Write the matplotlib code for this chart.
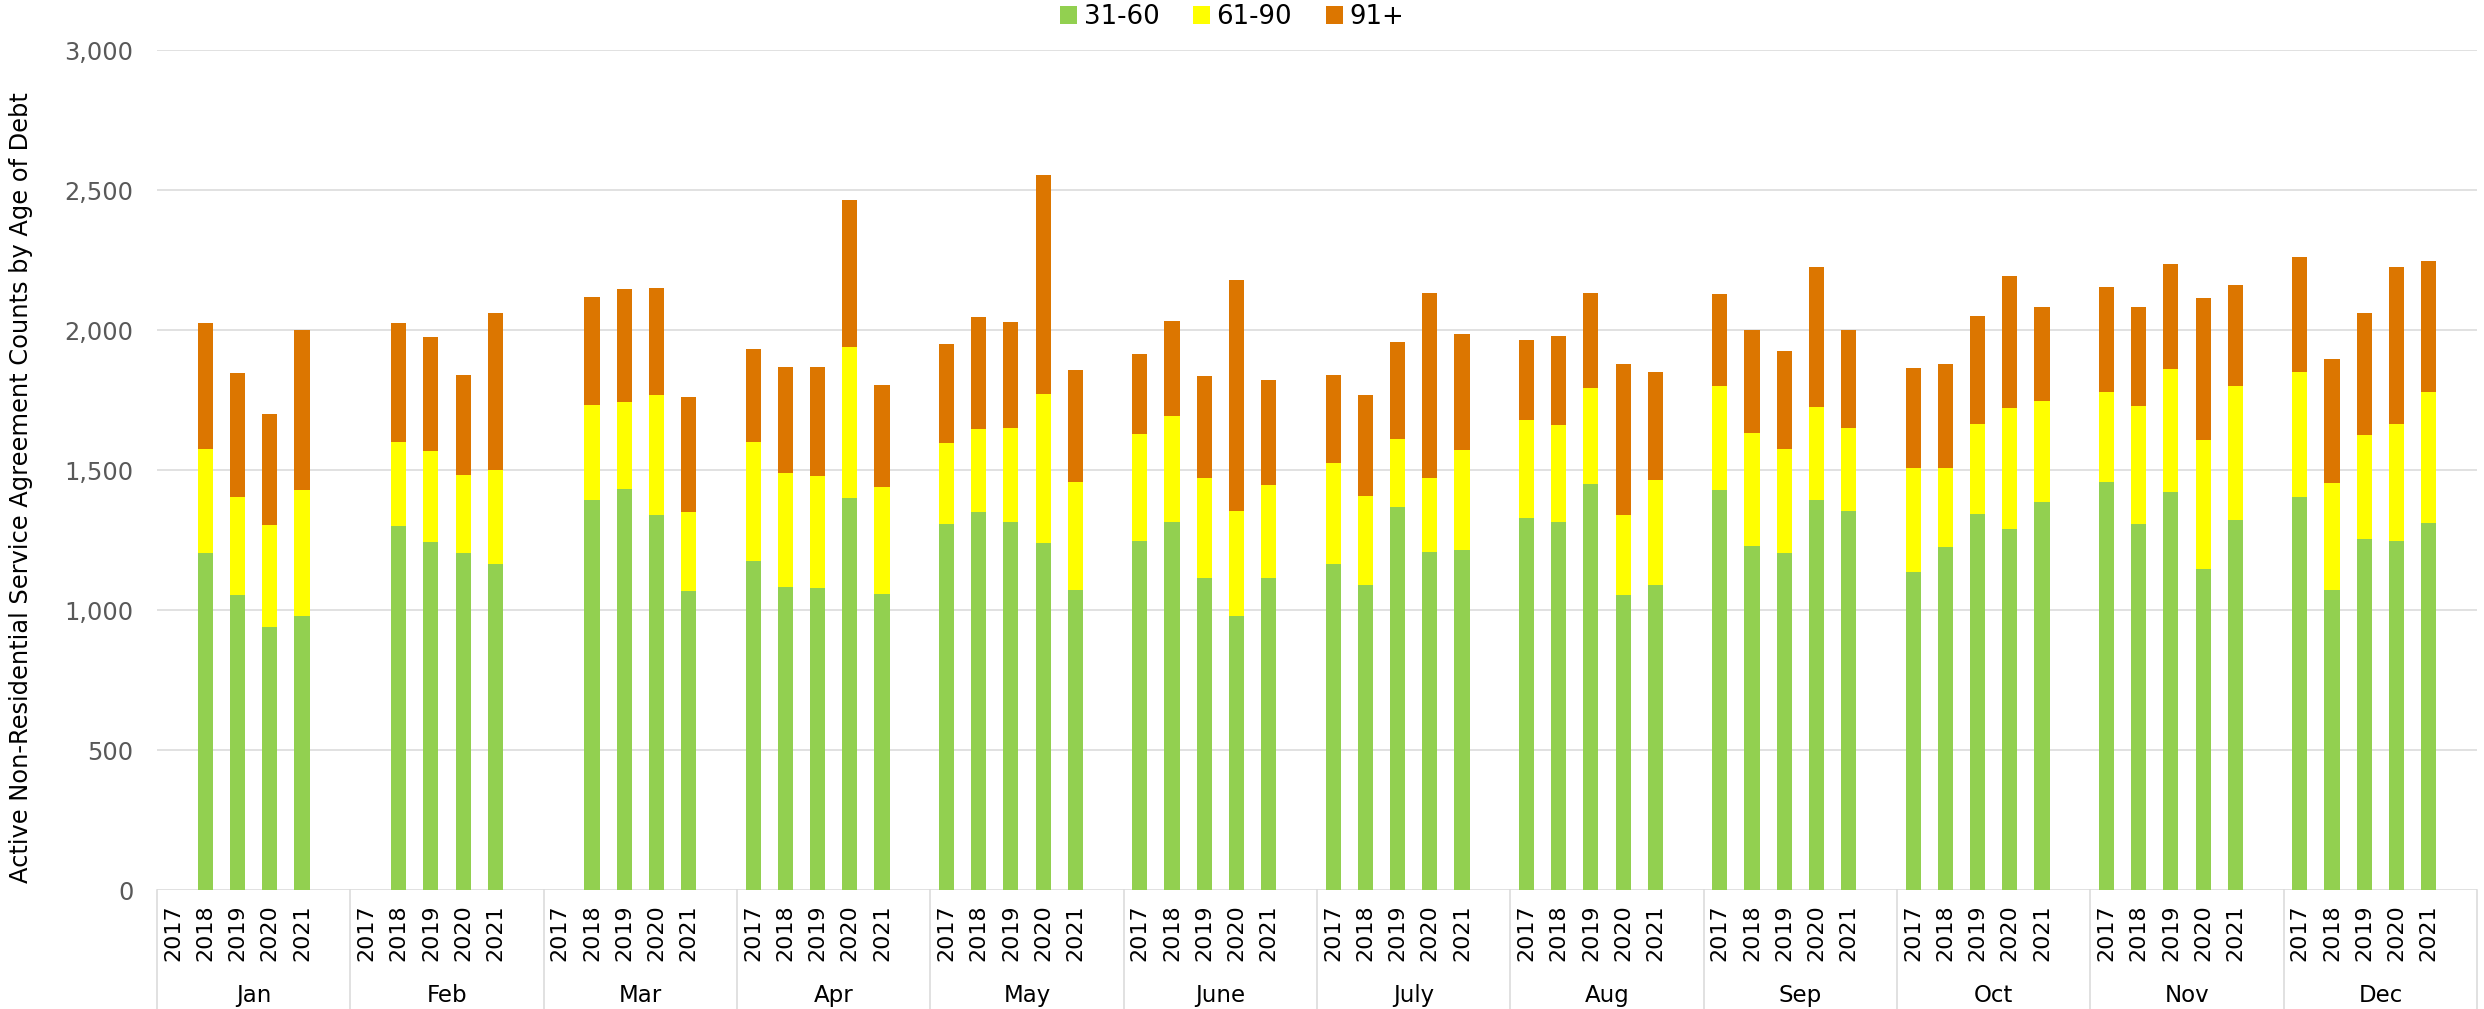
import matplotlib
matplotlib.use('Agg')
import matplotlib.pyplot as plt
import matplotlib.transforms as mtransforms
from matplotlib.patches import Patch
from matplotlib.ticker import StrMethodFormatter

months = ['Jan', 'Feb', 'Mar', 'Apr', 'May', 'June', 'July', 'Aug', 'Sep', 'Oct', 'Nov', 'Dec']
years = ['2017', '2018', '2019', '2020', '2021']
series = ['31-60', '61-90', '91+']
colors = ['#92D050', '#FFFF00', '#DC7600']

# values per month, years 2017..2021 (None = no data)
age_31_60 = [None, 1204, 1053, 940, 979,
             None, 1301, 1242, 1203, 1164,
             None, 1392, 1433, 1340, 1068,
             1176, 1084, 1080, 1401, 1059,
             1307, 1349, 1314, 1238, 1071,
             1245, 1316, 1114, 978, 1114,
             1165, 1091, 1369, 1206, 1213,
             1328, 1316, 1450, 1054, 1091,
             1427, 1227, 1204, 1392, 1355,
             1135, 1224, 1344, 1291, 1385,
             1456, 1309, 1420, 1146, 1323,
             1404, 1071, 1252, 1245, 1312]
age_61_90 = [None, 370, 350, 363, 450,
             None, 298, 325, 280, 336,
             None, 341, 310, 428, 281,
             425, 405, 397, 540, 379,
             290, 296, 335, 535, 388,
             384, 377, 359, 377, 331,
             360, 315, 241, 264, 358,
             349, 345, 344, 285, 372,
             374, 404, 372, 333, 294,
             372, 285, 322, 430, 363,
             322, 419, 441, 460, 478,
             445, 383, 372, 418, 468]
age_91_plus = [None, 450, 442, 396, 571,
               None, 426, 408, 356, 560,
               None, 384, 402, 382, 413,
               333, 379, 391, 522, 365,
               353, 400, 379, 779, 397,
               287, 340, 363, 823, 377,
               315, 363, 347, 662, 414,
               289, 317, 338, 540, 386,
               329, 368, 349, 499, 350,
               356, 368, 383, 473, 336,
               377, 353, 374, 510, 361,
               412, 444, 437, 563, 467]

fig = plt.figure(figsize=(24.84, 10.09), dpi=100)
ax = fig.add_axes([0.0632, 0.1179, 0.9340, 0.8325])

# 6 slots per month: 5 years + 1 blank gap
xpos = [m * 6 + y for m in range(len(months)) for y in range(len(years))]

for i, x in enumerate(xpos):
    if age_31_60[i] is None:
        continue
    bottom = 0
    for val, c in zip([age_31_60[i], age_61_90[i], age_91_plus[i]], colors):
        ax.bar(x, val, bottom=bottom, width=0.47, color=c, linewidth=0, zorder=3)
        bottom += val

ax.set_xlim(-0.5, len(months) * 6 - 0.5)
ax.set_ylim(0, 3000)
ax.set_yticks(range(0, 3001, 500))
ax.yaxis.set_major_formatter(StrMethodFormatter('{x:,.0f}'))
ax.grid(axis='y', color='#D9D9D9', linewidth=1.1, zorder=0)
for s in ax.spines.values():
    s.set_visible(False)

ax.tick_params(axis='y', length=0, pad=17, labelsize=17.3, labelcolor='#595959')
ax.set_xticks(xpos)
ax.set_xticklabels(years * len(months), rotation=90, fontsize=16)
ax.tick_params(axis='x', length=0, pad=10.5)

# month group labels and separators below the axis
trans = mtransforms.blended_transform_factory(ax.transData, ax.transAxes)
for m, name in enumerate(months):
    ax.text(m * 6 + 2.5, -0.125, name, transform=trans, ha='center', va='center', fontsize=16.5)
for k in range(len(months) + 1):
    ax.plot([k * 6 - 0.5, k * 6 - 0.5], [0, -0.145], transform=trans, color='#D9D9D9',
            linewidth=1.1, clip_on=False)

ax.set_ylabel('Active Non-Residential Service Agreement Counts by Age of Debt', fontsize=17.4)
ax.yaxis.set_label_coords(-0.0534, 0.479)

handles = [Patch(facecolor=c, edgecolor='none') for c in colors]
fig.legend(handles, series, loc='center', bbox_to_anchor=(0.496, 0.983), ncol=3,
           frameon=False, fontsize=18.7, handlelength=0.65, handleheight=0.65,
           handletextpad=0.25, columnspacing=1.3)

fig.savefig('out.png', dpi=100)
